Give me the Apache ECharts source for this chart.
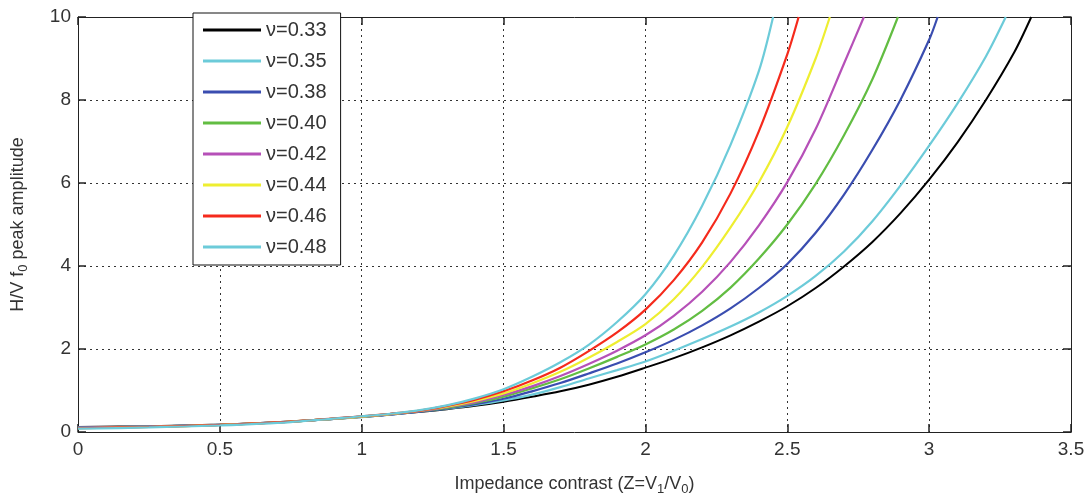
<!DOCTYPE html>
<html>
<head>
<meta charset="utf-8">
<script src="https://cdn.jsdelivr.net/npm/echarts@6/dist/echarts.min.js"></script>
<style>html,body{margin:0;padding:0;background:#fff;}#c{width:1089px;height:501px;}</style>
</head>
<body>
<div id="c"></div>
<script>
// Tick settings
const xTicks = [0, 0.5, 1, 1.5, 2, 2.5, 3, 3.5];
const yTicks = [0, 2, 4, 6, 8, 10];

// Series names
const seriesNames = ['ν=0.33', 'ν=0.35', 'ν=0.38', 'ν=0.40', 'ν=0.42', 'ν=0.44', 'ν=0.46', 'ν=0.48'];

// Series values as [Z, H/V amplitude]
const nu033 = [[0,0.12],[0.25,0.14],[0.5,0.18],[0.75,0.25],[1,0.36],[1.1,0.42],[1.2,0.48],[1.3,0.55],[1.4,0.63],[1.5,0.73],[1.6,0.85],[1.7,0.98],[1.8,1.14],[1.9,1.33],[2.0,1.55],[2.1,1.78],[2.2,2.04],[2.3,2.33],[2.4,2.66],[2.5,3.03],[2.6,3.47],[2.7,3.99],[2.8,4.58],[2.9,5.28],[3.0,6.08],[3.1,6.98],[3.2,8.0],[3.3,9.15],[3.36,10]];
const nu035 = [[0,0.11],[0.25,0.13],[0.5,0.17],[0.75,0.25],[1,0.36],[1.1,0.42],[1.2,0.49],[1.3,0.56],[1.4,0.65],[1.5,0.76],[1.6,0.9],[1.7,1.08],[1.8,1.29],[1.9,1.49],[2.0,1.7],[2.1,1.96],[2.2,2.24],[2.3,2.54],[2.4,2.88],[2.5,3.28],[2.6,3.76],[2.7,4.35],[2.8,5.08],[2.9,5.95],[3.0,6.9],[3.1,7.92],[3.2,9.05],[3.27,10]];
const nu038 = [[0,0.11],[0.25,0.13],[0.5,0.17],[0.75,0.25],[1,0.37],[1.1,0.42],[1.2,0.49],[1.3,0.57],[1.4,0.67],[1.5,0.8],[1.6,0.98],[1.7,1.18],[1.8,1.41],[1.9,1.65],[2.0,1.92],[2.1,2.22],[2.2,2.57],[2.3,2.98],[2.4,3.47],[2.5,4.05],[2.6,4.8],[2.7,5.72],[2.8,6.8],[2.9,8.02],[3.0,9.45],[3.03,10]];
const nu040 = [[0,0.1],[0.25,0.13],[0.5,0.17],[0.75,0.25],[1,0.37],[1.1,0.43],[1.2,0.5],[1.3,0.58],[1.4,0.7],[1.5,0.85],[1.6,1.05],[1.7,1.27],[1.8,1.53],[1.9,1.81],[2.0,2.11],[2.1,2.47],[2.2,2.92],[2.3,3.48],[2.4,4.18],[2.5,5.0],[2.6,5.98],[2.7,7.15],[2.8,8.5],[2.89,10]];
const nu042 = [[0,0.1],[0.25,0.13],[0.5,0.17],[0.75,0.25],[1,0.37],[1.1,0.43],[1.2,0.5],[1.3,0.6],[1.4,0.72],[1.5,0.89],[1.6,1.1],[1.7,1.35],[1.8,1.64],[1.9,1.96],[2.0,2.33],[2.1,2.8],[2.2,3.38],[2.3,4.1],[2.4,4.98],[2.5,6.02],[2.6,7.3],[2.7,8.88],[2.77,10]];
const nu044 = [[0,0.09],[0.25,0.12],[0.5,0.17],[0.75,0.25],[1,0.37],[1.1,0.43],[1.2,0.51],[1.3,0.61],[1.4,0.75],[1.5,0.93],[1.6,1.17],[1.7,1.45],[1.8,1.79],[1.9,2.17],[2.0,2.6],[2.1,3.2],[2.2,3.98],[2.3,4.93],[2.4,6.02],[2.5,7.35],[2.6,9.0],[2.65,10]];
const nu046 = [[0,0.09],[0.25,0.12],[0.5,0.17],[0.75,0.25],[1,0.38],[1.1,0.44],[1.2,0.51],[1.3,0.63],[1.4,0.78],[1.5,0.98],[1.6,1.24],[1.7,1.55],[1.8,1.95],[1.9,2.4],[2.0,2.95],[2.1,3.66],[2.2,4.57],[2.3,5.75],[2.4,7.25],[2.5,9.1],[2.54,10]];
const nu048 = [[0,0.08],[0.25,0.11],[0.5,0.16],[0.75,0.24],[1,0.38],[1.1,0.44],[1.2,0.52],[1.3,0.64],[1.4,0.81],[1.5,1.03],[1.6,1.33],[1.7,1.68],[1.8,2.1],[1.9,2.65],[2.0,3.32],[2.1,4.25],[2.2,5.45],[2.3,6.92],[2.4,8.7],[2.45,10]];

const seriesData = [nu033, nu035, nu038, nu040, nu042, nu044, nu046, nu048];
const colors = ['#000000', '#6ccbd9', '#3a4db0', '#62bd42', '#b650b8', '#eeee30', '#f52a1c', '#6ccbd9'];

const FONT = '"Liberation Sans", Arial, sans-serif';
const chart = echarts.init(document.getElementById('c'), null, {renderer: 'canvas'});

const baseX = {
  type: 'value', min: 0, max: 3.5, interval: 0.5,
  axisLine: {show: true, onZero: false, lineStyle: {color: '#222', width: 1}},
  axisTick: {show: true, inside: true, length: 8, lineStyle: {color: '#222', width: 1.5}},
};
const baseY = {
  type: 'value', min: 0, max: 10, interval: 2,
  axisLine: {show: true, onZero: false, lineStyle: {color: '#222', width: 1}},
  axisTick: {show: true, inside: true, length: 8, lineStyle: {color: '#222', width: 1.5}},
};

const option = {
  backgroundColor: '#ffffff',
  animation: false,
  textStyle: {fontFamily: FONT},
  grid: {left: 78, right: 18, top: 17, bottom: 61, containLabel: false},
  xAxis: [
    Object.assign({}, baseX, {
      position: 'bottom',
      name: 'Impedance contrast (Z=V{sub|1}/V{sub|0})',
      nameLocation: 'middle', nameGap: 41,
      nameTextStyle: {fontFamily: FONT, fontSize: 18, color: '#333',
        rich: {sub: {fontSize: 13, color: '#333', fontFamily: FONT, verticalAlign: 'bottom', padding: [10, 0, 0, 0]}}},
      axisLabel: {show: true, color: '#333', fontSize: 19, fontFamily: FONT, margin: 8,
        formatter: v => String(v)},
      splitLine: {show: true, lineStyle: {color: '#333', type: [2, 4], width: 1}}
    }),
    Object.assign({}, baseX, {
      position: 'top',
      axisLabel: {show: false},
      splitLine: {show: false}
    })
  ],
  yAxis: [
    Object.assign({}, baseY, {
      position: 'left',
      name: 'H/V f{sub|0} peak amplitude',
      nameLocation: 'middle', nameGap: 48,
      nameTextStyle: {fontFamily: FONT, fontSize: 18, color: '#333',
        rich: {sub: {fontSize: 13, color: '#333', fontFamily: FONT, verticalAlign: 'bottom', padding: [10, 0, 0, 0]}}},
      axisLabel: {show: true, color: '#333', fontSize: 19, fontFamily: FONT, margin: 7},
      splitLine: {show: true, lineStyle: {color: '#333', type: [2, 4], width: 1}}
    }),
    Object.assign({}, baseY, {
      position: 'right',
      axisLabel: {show: false},
      splitLine: {show: false}
    })
  ],
  legend: {
    show: true,
    orient: 'vertical',
    left: 193, top: 13,
    padding: [7, 14, 8, 10],
    itemGap: 11,
    itemWidth: 58, itemHeight: 3,
    itemTextGap: 6,
    icon: 'rect',
    backgroundColor: '#ffffff',
    borderColor: '#111', borderWidth: 1,
    textStyle: {fontFamily: FONT, fontSize: 20, color: '#333', lineHeight: 20},
    data: seriesNames
  },
  series: seriesData.map((d, i) => ({
    name: seriesNames[i],
    type: 'line',
    data: d,
    xAxisIndex: 0, yAxisIndex: 0,
    showSymbol: false, symbol: 'none',
    smooth: 0.3,
    clip: true,
    color: colors[i],
    lineStyle: {color: colors[i], width: i === 0 ? 2 : 2.2}
  }))
};
chart.setOption(option);
</script>
</body>
</html>
